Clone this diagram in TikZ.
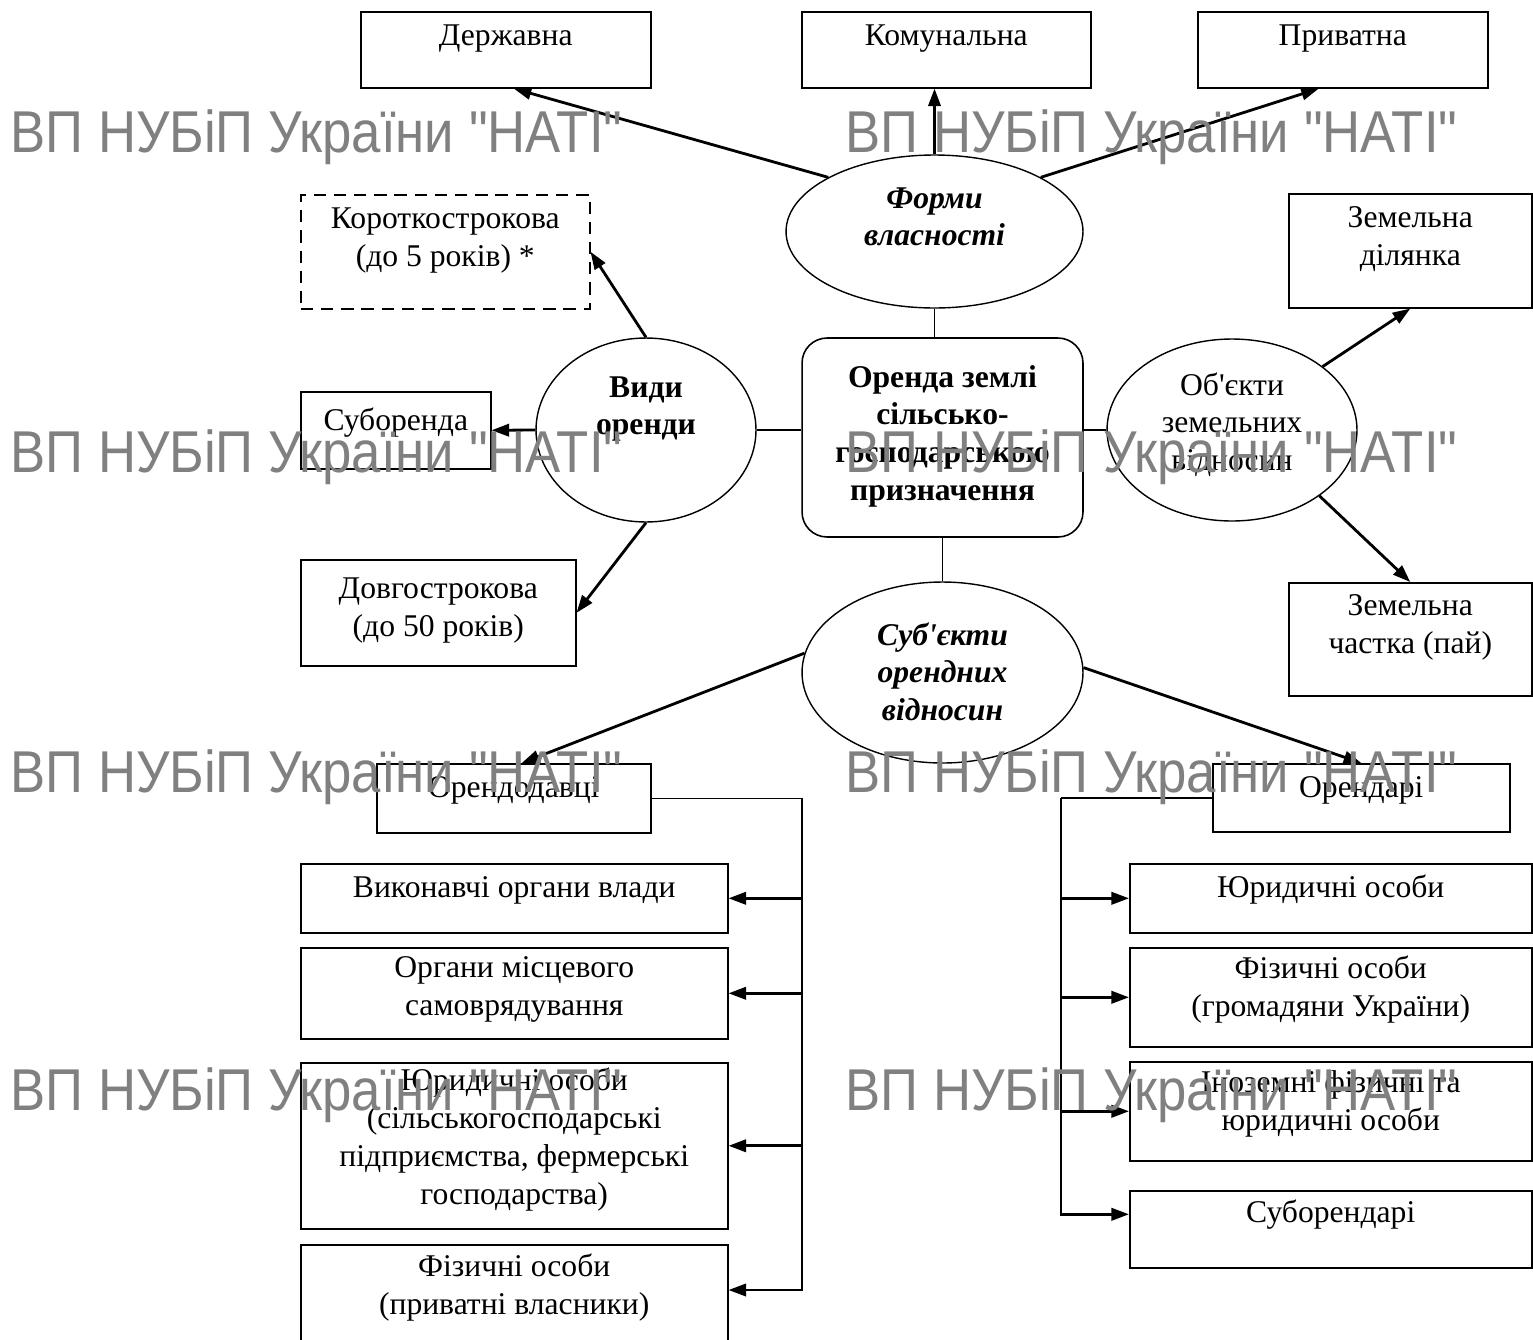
\documentclass[tikz,border=0pt]{standalone}
\usepackage{graphicx}
\usepackage{fontspec}
\setmainfont{Liberation Serif}
\newfontfamily\wmfont{Liberation Sans}
\usetikzlibrary{shapes,arrows.meta,calc,positioning}

\newcommand{\fs}{\fontsize{18}{21.5}\selectfont}
\newcommand{\ml}[1]{\begin{tabular}[t]{@{}c@{}}#1\end{tabular}}

\tikzset{
  box/.style={draw, line width=0.9pt, inner sep=0pt, anchor=north west},
  oval/.style={draw, ellipse, line width=0.8pt, inner sep=0pt},
  arr/.style={line width=1.6pt, -{Triangle[length=10pt,width=7pt]}},
  link/.style={line width=0.9pt},
  wm/.style={anchor=base west, text=black!50, inner sep=0pt,
    font=\wmfont\fontsize{30}{30}\selectfont}
}

\begin{document}
\begin{tikzpicture}[x=0.02cm, y=-0.02cm, font=\fs]
\useasboundingbox (0,0) rectangle (1533,1339);

% Forms of ownership
\node[box, minimum width=5.8cm, text height=0.68cm, text depth=0.84cm] (derzh) at (360,11) {Державна};
\node[box, minimum width=5.78cm, text height=0.68cm, text depth=0.84cm] (komun) at (801,11) {Комунальна};
\node[box, minimum width=5.8cm, text height=0.68cm, text depth=0.84cm] (pryv) at (1197,11) {Приватна};
\node[oval, minimum width=5.94cm, minimum height=3.06cm, text height=0.5cm, text depth=1.44cm,
  font=\fs\bfseries\itshape] (formy) at (934.5,231.5) {\ml{Форми\\власності}};

% Types of lease
\node[box, dash pattern=on 7pt off 4.5pt, minimum width=5.78cm, text height=0.68cm, text depth=1.6cm]
  (korot) at (300,194) {\ml{Короткострокова\\(до 5 років) *}};
\node[box, minimum width=3.8cm, text height=0.78cm, text depth=0.76cm] (subor) at (300,391) {Суборенда};
\node[box, minimum width=5.5cm, text height=0.78cm, text depth=1.34cm] (dovho) at (300,559) {\ml{Довгострокова\\(до 50 років)}};
\node[oval, minimum width=4.4cm, minimum height=3.68cm, text height=0.5cm, text depth=1.82cm,
  font=\fs\bfseries] (vydy) at (646,430) {\ml{Види\\оренди}};

% Centre
\node[draw, rounded corners=0.5cm, line width=0.9pt, inner sep=0pt, minimum width=5.62cm, minimum height=3.98cm,
  text height=0.5cm, text depth=2.52cm, font=\fs\bfseries] (orenda) at (942.5,437.5)
  {\ml{Оренда землі\\сільсько-\\господарською\\призначення}};

% Objects
\node[box, minimum width=4.86cm, text height=0.68cm, text depth=1.6cm] (zemdil) at (1288,193) {\ml{Земельна\\ділянка}};
\node[box, minimum width=4.86cm, text height=0.66cm, text depth=1.6cm] (zemch) at (1288,582) {\ml{Земельна\\частка (пай)}};
\node[oval, minimum width=5cm, minimum height=3.64cm, text height=0.5cm, text depth=1.9cm] (obj) at (1232,430)
  {\ml{Об\textquotesingle єкти\\земельних\\відносин}};

% Subjects
\node[oval, minimum width=5.62cm, minimum height=3.62cm, text height=0.5cm, text depth=1.6cm,
  font=\fs\bfseries\itshape] (subj) at (942.5,672.5) {\ml{Суб\textquotesingle єкти\\орендних\\відносин}};

% Lessors
\node[box, minimum width=5.48cm, text height=0.68cm, text depth=0.7cm] (orendod) at (376,763) {Орендодавці};
\node[box, minimum width=8.54cm, text height=0.68cm, text depth=0.7cm] (vykon) at (300,863) {Виконавчі органи влади};
\node[box, minimum width=8.54cm, text height=0.6cm, text depth=1.22cm] (orhany) at (300,947) {\ml{Органи місцевого\\самоврядування}};
\node[box, minimum width=8.54cm, text height=0.56cm, text depth=2.76cm] (yurL) at (300,1062)
  {\ml{Юридичні особи\\(сільськогосподарські\\підприємства, фермерські\\господарства)}};
\node[box, minimum width=8.54cm, text height=0.64cm, text depth=1.6cm] (fizL) at (300,1244) {\ml{Фізичні особи\\(приватні власники)}};

% Lessees
\node[box, minimum width=5.94cm, text height=0.68cm, text depth=0.68cm] (orendari) at (1212,763) {Орендарі};
\node[box, minimum width=8.04cm, text height=0.68cm, text depth=0.7cm] (yurR) at (1129,863) {Юридичні особи};
\node[box, minimum width=8.04cm, text height=0.62cm, text depth=1.36cm] (fizR) at (1129,947) {\ml{Фізичні особи\\(громадяни України)}};
\node[box, minimum width=8.04cm, text height=0.62cm, text depth=1.36cm] (inoz) at (1129,1061) {\ml{Іноземні фізичні та\\юридичні особи}};
\node[box, minimum width=8.04cm, text height=0.64cm, text depth=0.9cm] (subar) at (1129,1190) {Суборендарі};

% Connectors
\draw[arr] (formy.153) -- ([xshift=0.16cm]derzh.south);
\draw[arr] (formy.north) -- (formy.north |- komun.south);
\draw[arr] (formy.27) -- ([xshift=-0.48cm]pryv.south);
\draw[link] (formy.south) -- (formy.south |- orenda.north);

\draw[arr] (vydy.north) -- (korot.east);
\draw[arr] (vydy.west) -- (subor.east);
\draw[arr] (vydy.south) -- (dovho.east);
\draw[link] (vydy.east) -- (vydy.east -| orenda.west);

\draw[link] (obj.west -| orenda.east) -- (obj.west);
\draw[arr] (obj.35) -- (zemdil.south);
\draw[arr] (obj.-37) -- (zemch.north);

\draw[link] (orenda.south) -- (subj.north);
\draw[arr] (subj.172) -- ([xshift=0.16cm]orendod.north);
\draw[arr] (subj.2) -- (orendari.north);

% Buses
\path (802,0) coordinate (busLx) (1061,0) coordinate (busRx);
\coordinate (busL) at (orendod.east -| busLx);
\coordinate (busR) at (orendari.west -| busRx);
\coordinate (fizLin) at ([yshift=-0.92cm]fizL.north east);
\coordinate (subarIn) at ([yshift=0.3cm]subar.west);

\draw[link] (orendod.east) -- (busL);
\draw[arr] (busL) -- (busL |- fizLin) -- (fizLin);
\foreach \n in {vykon,orhany,yurL}
  \draw[arr] (busL |- \n.east) -- (\n.east);

\draw[link] (orendari.west) -- (busR);
\draw[arr] (busR) -- (busR |- subarIn) -- (subarIn);
\foreach \n in {yurR,fizR,inoz}
  \draw[arr] (busR |- \n.west) -- (\n.west);

% Watermark
\foreach \y in {152,472,792,1110} {
  \node[wm] (wmL\y) at (10,\y) {\scalebox{1}[1.12]{ВП НУБіП України "НАТІ"}};
  \node[wm] (wmR\y) at (845,\y) {\scalebox{1}[1.12]{ВП НУБіП України "НАТІ"}};
}
\end{tikzpicture}
\end{document}
